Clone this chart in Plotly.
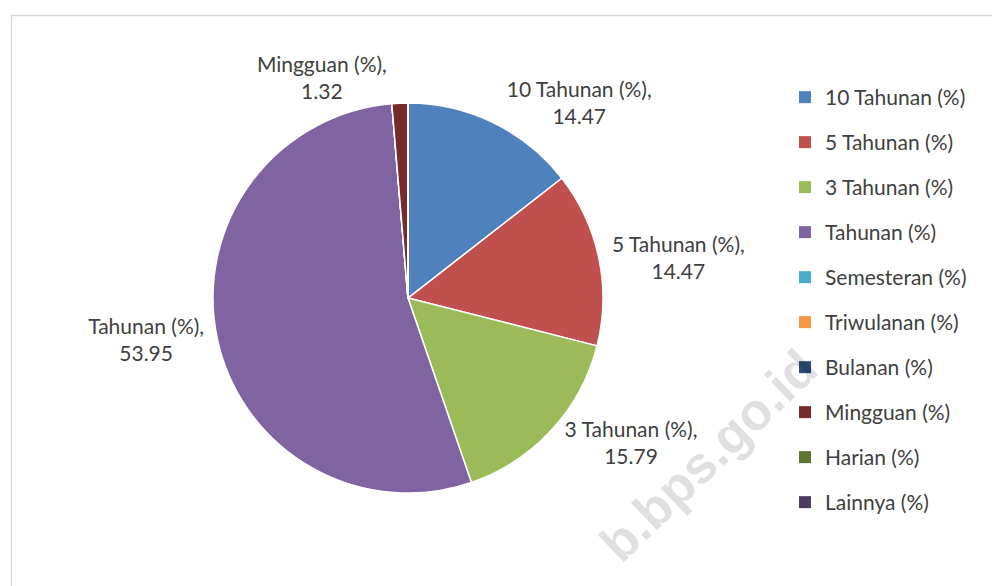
import plotly.graph_objects as go

labels = ["10 Tahunan (%)", "5 Tahunan (%)", "3 Tahunan (%)", "Tahunan (%)",
          "Semesteran (%)", "Triwulanan (%)", "Bulanan (%)", "Mingguan (%)",
          "Harian (%)", "Lainnya (%)"]
values = [14.47, 14.47, 15.79, 53.95, 0, 0, 0, 1.32, 0, 0]
colors = ["#4F81BD", "#C0504D", "#9BBB59", "#8064A2", "#4BACC6",
          "#F79646", "#2C4D75", "#772C2A", "#5F7530", "#4D3B62"]

FONT = "Lato"
TXT = "#404040"

templates = ["%{label},<br>%{value:.2f}" if v > 0 else "" for v in values]

fig = go.Figure()
fig.add_trace(go.Pie(
    labels=labels, values=values, sort=False, direction="clockwise", rotation=0,
    marker=dict(colors=colors, line=dict(color="white", width=1.5)),
    textposition="outside", texttemplate=templates,
    textfont=dict(family=FONT, size=21, color=TXT),
    showlegend=False, domain=dict(x=[0.205, 0.595], y=[0.172, 0.838]),
))

for lab, col in zip(labels, colors):
    fig.add_trace(go.Scatter(
        x=[None], y=[None], mode="markers", name=lab, legendgroup=lab,
        marker=dict(symbol="square", size=8, color=col),
    ))

fig.update_layout(
    width=1000, height=586, margin=dict(l=0, r=0, t=0, b=0),
    paper_bgcolor="white", plot_bgcolor="white",
    xaxis=dict(visible=False), yaxis=dict(visible=False),
    legend=dict(x=0.777, y=1 - 69 / 586, xanchor="left", yanchor="top",
                font=dict(family=FONT, size=21, color=TXT),
                tracegroupgap=14.7, itemsizing="constant", bgcolor="rgba(0,0,0,0)"),
    shapes=[dict(type="rect", xref="paper", yref="paper", x0=0.0035, x1=1.01,
                 y0=-0.02, y1=1 - 7.5 / 586, line=dict(color="#d9d9d9", width=1.5),
                 layer="below")],
    annotations=[dict(text="<b>b.bps.go.id</b>", xref="paper", yref="paper",
                      x=0.70, y=1 - 448 / 586, xanchor="center", yanchor="middle",
                      showarrow=False, textangle=-44,
                      font=dict(family="Liberation Sans", size=52,
                                color="rgba(0,0,0,0.12)"))],
)

fig.write_html("out.html")
